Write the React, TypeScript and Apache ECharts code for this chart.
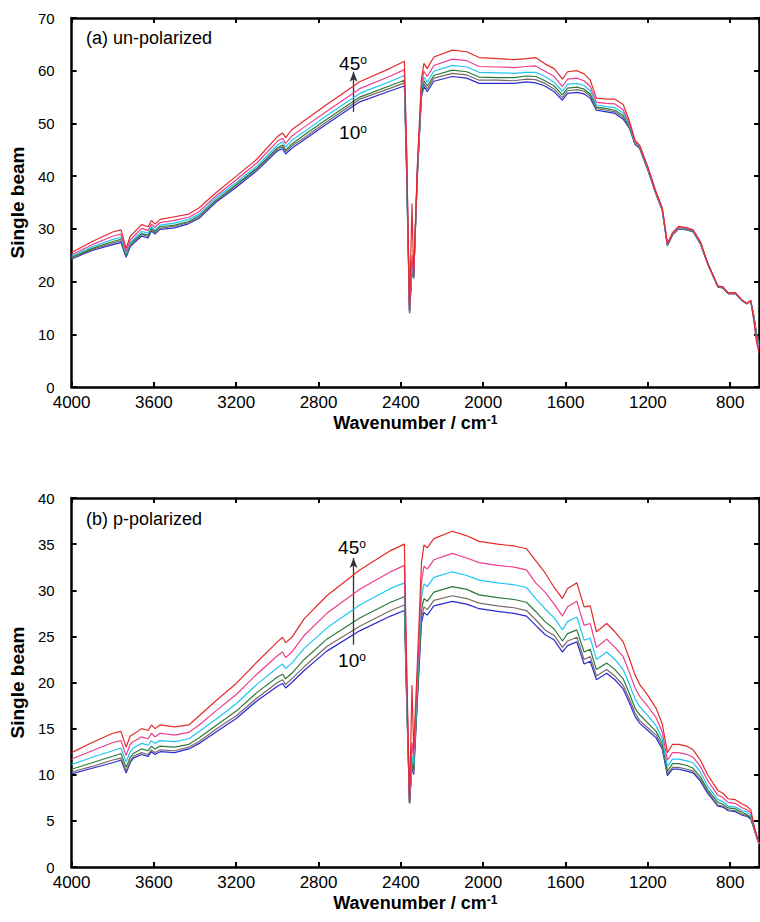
import React, { useEffect, useRef } from "react";
import * as echarts from "echarts";

const FONT = "'Liberation Sans', Arial, Helvetica, sans-serif";

// Wavenumber grid (cm-1), shared by every curve
const wavenumbers = [
  4000, 3900, 3800, 3760, 3735, 3715, 3700, 3660, 3628, 3612,
  3595, 3570, 3500, 3430, 3380, 3300, 3200, 3100, 3000, 2975,
  2960, 2930, 2870, 2760, 2600, 2450, 2383, 2372, 2358, 2346,
  2338, 2320, 2300, 2288, 2272, 2240, 2150, 2080, 2020, 1930,
  1850, 1790, 1745, 1700, 1655, 1615, 1590, 1545, 1510, 1480,
  1450, 1400, 1360, 1320, 1290, 1262, 1240, 1200, 1160, 1130,
  1105, 1080, 1050, 1010, 980, 945, 910, 860, 835, 810,
  775, 740, 720, 700, 685, 672, 660,
];

const angleNames = ["10°", "15°", "20°", "30°", "40°", "45°"];
const lineColors = ["#2a2ad8", "#7a6a66", "#2e7a3c", "#1ec6f2", "#ee3c8e", "#e42a2a"];

// (a) un-polarized
const unpol10 = [
  24.3, 25.9, 27.0, 27.4, 24.6, 26.6, 27.2, 28.6, 28.3, 29.6,
  29.0, 29.9, 30.2, 31.0, 32.0, 35.0, 37.9, 41.0, 44.8, 45.2,
  44.2, 45.3, 46.9, 49.9, 54.1, 56.2, 57.1, 40.0, 14.0, 22.0,
  20.6, 40.0, 55.0, 57.0, 56.0, 58.0, 58.9, 58.6, 57.6, 57.6,
  57.6, 57.9, 57.7, 57.1, 56.0, 54.4, 55.7, 55.9, 55.6, 54.8,
  52.5, 52.2, 51.9, 50.8, 49.1, 46.0, 45.3, 41.1, 36.5, 33.5,
  26.8, 28.8, 30.0, 29.8, 29.4, 27.2, 23.4, 19.0, 18.8, 17.7,
  17.7, 16.3, 15.8, 16.3, 13.5, 10.2, 8.5,
];
const unpol15 = [
  24.4, 26.1, 27.3, 27.7, 24.8, 26.8, 27.4, 28.9, 28.6, 29.8,
  29.2, 30.1, 30.5, 31.2, 32.2, 35.2, 38.2, 41.3, 45.1, 45.6,
  44.6, 45.7, 47.3, 50.3, 54.6, 56.7, 57.7, 41.0, 14.1, 22.5,
  20.7, 40.2, 55.4, 57.5, 56.5, 58.6, 59.5, 59.2, 58.2, 58.2,
  58.1, 58.4, 58.3, 57.6, 56.5, 54.9, 56.2, 56.4, 56.1, 55.2,
  52.8, 52.5, 52.2, 51.1, 49.3, 46.1, 45.4, 41.2, 36.6, 33.6,
  26.8, 28.9, 30.1, 29.8, 29.5, 27.2, 23.4, 19.0, 18.8, 17.7,
  17.7, 16.3, 15.8, 16.3, 13.4, 10.0, 8.3,
];
const unpol20 = [
  24.6, 26.3, 27.6, 28.0, 25.0, 27.1, 27.7, 29.1, 28.8, 30.1,
  29.5, 30.4, 30.7, 31.4, 32.5, 35.4, 38.4, 41.5, 45.4, 45.9,
  44.9, 46.1, 47.8, 50.8, 55.0, 57.2, 58.2, 42.0, 14.2, 23.0,
  20.7, 40.5, 55.8, 58.1, 57.1, 59.1, 60.1, 59.8, 58.8, 58.7,
  58.7, 59.0, 58.9, 58.1, 57.1, 55.4, 56.7, 56.9, 56.5, 55.6,
  53.1, 52.8, 52.5, 51.5, 49.4, 46.2, 45.4, 41.3, 36.6, 33.6,
  26.9, 28.9, 30.1, 29.9, 29.5, 27.3, 23.5, 19.0, 18.8, 17.7,
  17.7, 16.3, 15.8, 16.3, 13.3, 9.8, 8.0,
];
const unpol30 = [
  24.8, 26.6, 28.0, 28.4, 25.3, 27.4, 28.0, 29.5, 29.2, 30.4,
  29.8, 30.7, 31.1, 31.8, 32.8, 35.8, 38.8, 41.9, 45.9, 46.5,
  45.5, 46.8, 48.4, 51.5, 55.7, 58.0, 59.1, 43.0, 14.3, 23.5,
  20.8, 40.8, 56.5, 58.8, 57.8, 59.9, 61.0, 60.7, 59.7, 59.6,
  59.5, 59.7, 59.7, 58.9, 57.8, 56.1, 57.4, 57.6, 57.2, 56.2,
  53.5, 53.2, 53.0, 52.0, 49.7, 46.3, 45.6, 41.4, 36.7, 33.7,
  27.0, 29.0, 30.2, 30.0, 29.6, 27.4, 23.5, 19.1, 18.9, 17.8,
  17.8, 16.3, 15.8, 16.3, 13.1, 9.5, 7.7,
];
const unpol40 = [
  25.1, 27.0, 28.6, 29.0, 25.7, 27.9, 28.5, 30.1, 29.7, 30.9,
  30.3, 31.2, 31.6, 32.2, 33.3, 36.2, 39.3, 42.5, 46.6, 47.2,
  46.2, 47.6, 49.3, 52.3, 56.6, 59.0, 60.2, 44.0, 14.4, 25.0,
  20.9, 41.3, 57.3, 59.9, 58.9, 61.0, 62.2, 61.9, 60.8, 60.7,
  60.6, 60.8, 60.9, 59.9, 58.9, 57.0, 58.4, 58.6, 58.1, 57.0,
  54.0, 53.8, 53.7, 52.6, 50.0, 46.5, 45.7, 41.6, 36.8, 33.8,
  27.1, 29.1, 30.3, 30.1, 29.7, 27.5, 23.5, 19.1, 18.9, 17.8,
  17.8, 16.4, 15.9, 16.4, 12.8, 9.1, 7.2,
];
const unpol45 = [
  25.5, 27.6, 29.4, 29.8, 26.3, 28.6, 29.2, 30.8, 30.4, 31.6,
  30.9, 31.8, 32.3, 32.8, 34.0, 36.8, 40.0, 43.2, 47.5, 48.2,
  47.3, 48.8, 50.5, 53.6, 57.9, 60.5, 61.8, 45.0, 14.5, 34.8,
  21.0, 42.0, 58.5, 61.4, 60.4, 62.6, 63.9, 63.6, 62.5, 62.3,
  62.1, 62.3, 62.5, 61.3, 60.4, 58.4, 59.8, 60.0, 59.4, 58.2,
  54.8, 54.6, 54.6, 53.6, 50.5, 46.8, 45.9, 41.8, 37.0, 34.0,
  27.2, 29.3, 30.5, 30.2, 29.8, 27.6, 23.6, 19.2, 19.0, 17.9,
  17.9, 16.4, 15.9, 16.4, 12.5, 8.5, 6.5,
];

// (b) p-polarized
const ppol10 = [
  10.1, 10.7, 11.3, 11.6, 10.2, 11.3, 11.8, 12.2, 12.0, 12.5,
  12.2, 12.5, 12.4, 12.8, 13.4, 14.6, 16.1, 18.0, 19.6, 19.9,
  19.4, 20.0, 21.3, 23.4, 25.6, 27.2, 27.8, 18.0, 6.9, 11.0,
  10.0, 18.0, 26.5, 27.6, 27.3, 28.3, 28.8, 28.5, 28.0, 27.7,
  27.5, 27.2, 26.2, 25.2, 24.6, 23.3, 24.0, 24.4, 22.0, 22.3,
  20.3, 21.0, 20.3, 19.3, 17.8, 16.3, 15.6, 14.8, 14.0, 12.8,
  9.9, 10.6, 10.6, 10.4, 10.2, 9.3, 8.0, 6.6, 6.5, 6.1,
  6.0, 5.6, 5.5, 5.2, 4.2, 3.3, 2.5,
];
const ppol15 = [
  10.3, 10.9, 11.6, 11.8, 10.4, 11.5, 12.0, 12.4, 12.2, 12.7,
  12.4, 12.7, 12.6, 13.0, 13.6, 14.9, 16.4, 18.3, 20.0, 20.3,
  19.8, 20.4, 21.7, 23.9, 26.1, 27.8, 28.4, 18.3, 6.9, 11.3,
  10.2, 18.3, 27.0, 28.2, 27.9, 28.9, 29.4, 29.1, 28.6, 28.3,
  28.1, 27.8, 26.8, 25.7, 25.1, 23.8, 24.5, 24.9, 22.5, 22.8,
  20.7, 21.4, 20.7, 19.7, 18.2, 16.7, 15.9, 15.1, 14.3, 13.0,
  10.1, 10.8, 10.8, 10.6, 10.4, 9.5, 8.2, 6.7, 6.6, 6.2,
  6.1, 5.7, 5.6, 5.3, 4.2, 3.3, 2.5,
];
const ppol20 = [
  10.6, 11.3, 12.0, 12.3, 10.8, 11.9, 12.3, 12.8, 12.6, 13.1,
  12.8, 13.1, 13.0, 13.3, 14.0, 15.3, 16.9, 18.9, 20.6, 20.9,
  20.4, 21.0, 22.5, 24.7, 27.0, 28.7, 29.3, 18.8, 6.9, 11.6,
  10.6, 18.8, 27.9, 29.1, 28.8, 29.8, 30.4, 30.1, 29.5, 29.2,
  29.0, 28.7, 27.7, 26.6, 25.8, 24.5, 25.3, 25.7, 23.3, 23.6,
  21.4, 22.1, 21.4, 20.4, 18.8, 17.2, 16.5, 15.6, 14.7, 13.4,
  10.4, 11.2, 11.2, 11.0, 10.7, 9.8, 8.4, 7.0, 6.8, 6.4,
  6.3, 5.9, 5.7, 5.4, 4.3, 3.3, 2.5,
];
const ppol30 = [
  11.1, 11.9, 12.6, 12.9, 11.4, 12.5, 12.9, 13.4, 13.2, 13.7,
  13.4, 13.7, 13.6, 13.9, 14.7, 16.0, 17.7, 19.8, 21.6, 22.0,
  21.5, 22.1, 23.7, 25.9, 28.4, 30.2, 30.8, 19.7, 6.9, 12.0,
  11.1, 19.7, 29.2, 30.7, 30.4, 31.4, 32.0, 31.6, 31.1, 30.8,
  30.6, 30.3, 29.1, 28.0, 27.0, 25.7, 26.6, 27.1, 24.6, 24.8,
  22.5, 23.3, 22.5, 21.4, 19.8, 18.2, 17.4, 16.4, 15.3, 13.9,
  10.9, 11.7, 11.7, 11.5, 11.3, 10.3, 8.8, 7.3, 7.1, 6.6,
  6.5, 6.1, 6.0, 5.6, 4.4, 3.4, 2.5,
];
const ppol40 = [
  11.7, 12.6, 13.5, 13.7, 12.1, 13.3, 13.6, 14.1, 13.9, 14.5,
  14.1, 14.5, 14.3, 14.6, 15.4, 16.9, 18.7, 20.9, 22.9, 23.3,
  22.7, 23.3, 25.1, 27.5, 30.1, 32.0, 32.7, 20.7, 7.0, 13.5,
  11.8, 20.7, 30.9, 32.6, 32.3, 33.3, 34.0, 33.5, 33.0, 32.7,
  32.5, 32.2, 30.8, 29.8, 28.5, 27.2, 28.2, 28.8, 26.2, 26.4,
  23.8, 24.7, 23.8, 22.8, 21.1, 19.4, 18.5, 17.4, 16.2, 14.6,
  11.6, 12.4, 12.4, 12.2, 11.9, 10.9, 9.4, 7.8, 7.5, 7.0,
  6.9, 6.4, 6.2, 5.9, 4.5, 3.4, 2.6,
];
const ppol45 = [
  12.4, 13.5, 14.5, 14.7, 13.0, 14.2, 14.4, 15.0, 14.8, 15.4,
  15.0, 15.4, 15.2, 15.4, 16.4, 18.0, 19.9, 22.2, 24.4, 24.9,
  24.3, 24.9, 26.9, 29.4, 32.2, 34.3, 35.0, 22.0, 7.0, 19.7,
  12.7, 22.0, 33.0, 34.9, 34.6, 35.6, 36.4, 35.9, 35.3, 35.0,
  34.8, 34.5, 33.2, 31.9, 30.3, 29.1, 30.2, 30.8, 28.2, 28.3,
  25.5, 26.4, 25.5, 24.4, 22.6, 20.8, 19.8, 18.6, 17.2, 15.5,
  12.4, 13.3, 13.3, 13.1, 12.7, 11.6, 10.0, 8.3, 8.0, 7.4,
  7.3, 6.8, 6.6, 6.2, 4.6, 3.5, 2.6,
];

const unpolSets = [unpol10, unpol15, unpol20, unpol30, unpol40, unpol45];
const ppolSets = [ppol10, ppol15, ppol20, ppol30, ppol40, ppol45];

// axis settings
const xMin = 660;
const xMax = 4000;
const xStep = 400;
const unpolYMax = 70;
const unpolYStep = 10;
const ppolYMax = 40;
const ppolYStep = 5;

// annotation arrows (wavenumber, from value, to value)
const arrowWavenumber = 2630;
const unpolArrow = [52.2, 59.8];
const ppolArrow = [24.1, 33.5];

const GRID_LEFT = 70;
const GRID_W = 689;
const GRID_H = 369;
const TOP_A = 18;
const TOP_B = 498;

function xAxisFor(grid: number, top: boolean) {
  return {
    gridIndex: grid,
    type: "value",
    min: -xMax,
    max: -xMin,
    interval: xStep,
    position: top ? "top" : "bottom",
    axisLine: { show: true, onZero: false, lineStyle: { color: "#000", width: 2.5 } },
    axisTick: { show: true, inside: true, length: 5, lineStyle: { color: "#000", width: 2 } },
    axisLabel: top
      ? { show: false }
      : {
          show: true,
          color: "#000",
          fontSize: 17,
          fontFamily: FONT,
          margin: 7,
          showMaxLabel: false,
          formatter: (v: number) => (v > -xMin - 100 ? "" : String(-v)),
        },
    splitLine: { show: false },
    name: top ? "" : "{t|Wavenumber / cm}{s|-1}",
    nameLocation: "middle",
    nameGap: 27,
    nameTextStyle: {
      color: "#000",
      fontFamily: FONT,
      rich: {
        t: { fontSize: 18, fontWeight: "bold", color: "#000", fontFamily: FONT },
        s: { fontSize: 12, fontWeight: "bold", color: "#000", fontFamily: FONT, verticalAlign: "top" },
      },
    },
  };
}

function yAxisFor(grid: number, right: boolean, max: number, step: number) {
  return {
    gridIndex: grid,
    type: "value",
    min: 0,
    max,
    interval: step,
    position: right ? "right" : "left",
    axisLine: { show: true, onZero: false, lineStyle: { color: "#000", width: 2.5 } },
    axisTick: { show: true, inside: true, length: 5, lineStyle: { color: "#000", width: 2 } },
    axisLabel: right
      ? { show: false }
      : { show: true, color: "#000", fontSize: 15, fontFamily: FONT, margin: 17 },
    splitLine: { show: false },
    name: right ? "" : "Single beam",
    nameLocation: "middle",
    nameGap: 41,
    nameRotate: 90,
    nameTextStyle: { color: "#000", fontSize: 19, fontWeight: "bold", fontFamily: FONT },
  };
}

function seriesFor(panel: number, sets: number[][], arrow: number[]) {
  return sets.map((vals, k) => {
    const s: any = {
      type: "line",
      name: angleNames[k],
      xAxisIndex: panel,
      yAxisIndex: panel,
      data: wavenumbers.map((w, i) => [-w, vals[i]]),
      showSymbol: false,
      symbol: "none",
      silent: true,
      z: 2 + k,
      lineStyle: { width: 1.2, color: lineColors[k] },
      itemStyle: { color: lineColors[k] },
    };
    if (k === sets.length - 1) {
      s.markLine = {
        silent: true,
        symbol: ["none", "arrow"],
        symbolSize: [6, 10],
        label: { show: false },
        lineStyle: { color: "#333", width: 1.3, type: "solid" },
        emphasis: { disabled: true },
        data: [[{ coord: [-arrowWavenumber, arrow[0]] }, { coord: [-arrowWavenumber, arrow[1]] }]],
      };
    }
    return s;
  });
}

function degText(x: number, y: number, n: string) {
  return {
    type: "text",
    x,
    y,
    silent: true,
    style: {
      text: `{n|${n}}{s|o}`,
      align: "center",
      verticalAlign: "middle",
      fill: "#000",
      rich: {
        n: { fontSize: 19, fontFamily: FONT, fill: "#000" },
        s: { fontSize: 12, fontFamily: FONT, fill: "#000", verticalAlign: "top" },
      },
    },
  };
}

function panelTitle(x: number, y: number, text: string) {
  return {
    type: "text",
    x,
    y,
    silent: true,
    style: { text, fontSize: 18, fontFamily: FONT, fill: "#000", align: "left", verticalAlign: "middle" },
  };
}

export default function App() {
  const ref = useRef<HTMLDivElement>(null);
  useEffect(() => {
    if (!ref.current) return;
    const chart = echarts.init(ref.current, undefined, { renderer: "svg" });
    chart.setOption({
      animation: false,
      backgroundColor: "#fff",
      textStyle: { fontFamily: FONT },
      grid: [
        { left: GRID_LEFT, top: TOP_A, width: GRID_W, height: GRID_H, containLabel: false },
        { left: GRID_LEFT, top: TOP_B, width: GRID_W, height: GRID_H, containLabel: false },
      ],
      xAxis: [xAxisFor(0, false), xAxisFor(1, false), xAxisFor(0, true), xAxisFor(1, true)],
      yAxis: [
        yAxisFor(0, false, unpolYMax, unpolYStep),
        yAxisFor(1, false, ppolYMax, ppolYStep),
        yAxisFor(0, true, unpolYMax, unpolYStep),
        yAxisFor(1, true, ppolYMax, ppolYStep),
      ],
      series: [...seriesFor(0, unpolSets, unpolArrow), ...seriesFor(1, ppolSets, ppolArrow)],
      graphic: [
        panelTitle(86, 38, "(a) un-polarized"),
        panelTitle(86, 519, "(b) p-polarized"),
        degText(353, 63, "45"),
        degText(353, 132, "10"),
        degText(352, 547, "45"),
        degText(352, 660, "10"),
      ],
    });
    return () => chart.dispose();
  }, []);
  return (
    <div
      ref={ref}
      style={{ position: "absolute", left: 0, top: 0, width: 760, height: 922 }}
    />
  );
}
